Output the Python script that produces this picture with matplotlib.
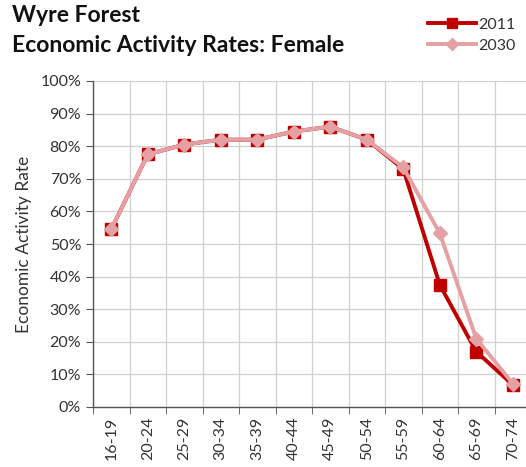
import matplotlib
matplotlib.use("Agg")
import matplotlib.pyplot as plt
from matplotlib.ticker import PercentFormatter, MultipleLocator, FixedLocator

plt.rcParams['font.family'] = ['Lato', 'DejaVu Sans']

age_groups = ['16-19', '20-24', '25-29', '30-34', '35-39', '40-44',
              '45-49', '50-54', '55-59', '60-64', '65-69', '70-74']
rate_2011 = [54.5, 77.5, 80.5, 82.0, 82.0, 84.5, 86.0, 82.0, 73.0, 37.5, 17.0, 6.8]
rate_2030 = [54.5, 77.5, 80.5, 82.0, 82.0, 84.5, 86.0, 82.0, 73.5, 53.3, 21.0, 7.2]

red = '#C00000'
pink = '#E4A0A3'
text_col = '#333333'

fig = plt.figure(figsize=(5.26, 4.67), dpi=100)
ax = fig.add_axes([93 / 526, 60 / 467, 438 / 526, 326 / 467])

x = list(range(len(age_groups)))
ax.plot(x, rate_2011, color=red, lw=2.8, marker='s', ms=8, label='2011', zorder=3)
ax.plot(x, rate_2030, color=pink, lw=2.8, marker='D', ms=7, label='2030', zorder=4)

ax.set_xlim(-0.5, len(age_groups) - 0.5)
ax.set_ylim(0, 100)
ax.set_xticks(x)
ax.set_xticklabels(age_groups, rotation=90, fontsize=11.5, color=text_col)
ax.xaxis.set_minor_locator(FixedLocator([i - 0.5 for i in range(len(age_groups) + 1)]))
ax.tick_params(axis='x', which='major', length=0, pad=7)
ax.tick_params(axis='x', which='minor', length=5, color='#555555', direction='out')
ax.yaxis.set_major_locator(MultipleLocator(10))
ax.yaxis.set_major_formatter(PercentFormatter(decimals=0))
ax.tick_params(axis='y', labelsize=11.5, colors=text_col, length=5, direction='out')
ax.tick_params(axis='y', color='#555555')

ax.grid(True, axis='y', color='#D0D0D0', lw=0.9)
ax.grid(True, axis='x', which='minor', color='#D0D0D0', lw=0.9)
ax.set_axisbelow(True)
for side in ['top', 'right']:
    ax.spines[side].set_visible(False)
for side in ['left', 'bottom']:
    ax.spines[side].set_color('#555555')
    ax.spines[side].set_linewidth(1.0)

ax.set_ylabel('Economic Activity Rate', fontsize=12.5, color=text_col, labelpad=6)

fig.text(12 / 526, 1 - 16 / 467, 'Wyre Forest', fontsize=16.5, fontweight='bold',
         va='center', ha='left', color='#111111')
fig.text(12 / 526, 1 - 45 / 467, 'Economic Activity Rates: Female', fontsize=16.5,
         fontweight='bold', va='center', ha='left', color='#111111')

fig.legend(loc='upper left', bbox_to_anchor=(414 / 526, 1 - 3 / 467), frameon=False,
           fontsize=11.5, handlelength=3.0, handletextpad=0.15, labelspacing=0.45,
           markerscale=0.85, labelcolor=text_col)

fig.savefig('out.png', dpi=100)
